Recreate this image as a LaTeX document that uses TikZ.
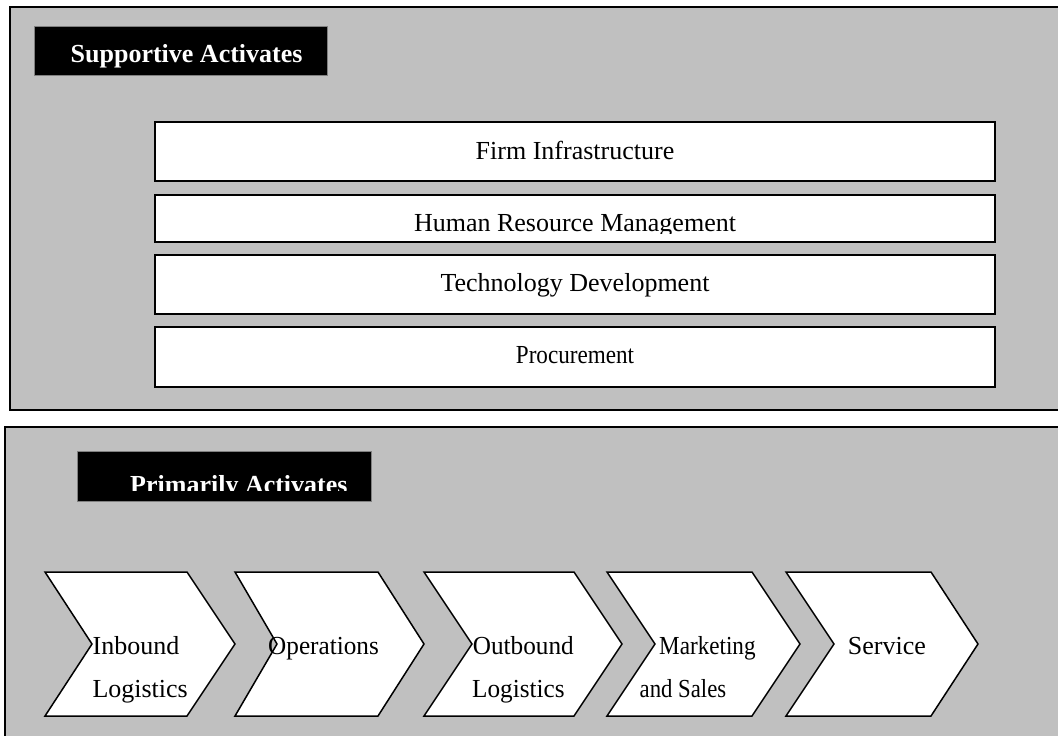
\documentclass[tikz,border=0pt]{standalone}
\usepackage{graphicx}
\usepackage{fontspec}
\setmainfont{Liberation Serif}
\definecolor{panelgray}{RGB}{192,192,192}
\tikzset{
  panel/.style={draw=black, line width=2pt, fill=panelgray},
  labelbox/.style={draw=gray, line width=0.8pt, fill=black},
  actbox/.style={draw=black, line width=2pt, fill=white},
  chev/.style={draw=black, line width=1.5pt, fill=white, line join=miter},
  txt/.style={inner sep=0pt, font=\fontsize{26}{31}\selectfont},
  btxt/.style={inner sep=0pt, text=white, font=\fontsize{26}{31}\selectfont\bfseries},
}
\begin{document}
\begin{tikzpicture}[x=1pt,y=-1pt]
\useasboundingbox (0,0) rectangle (1058,736);
\clip (0,0) rectangle (1058,736);
% panels
\path[panel] (10,7) rectangle (1075,410);
\coordinate (topP) at (10,7);
\path[panel] (5,427) rectangle (1075,760);
\coordinate (botP) at (5,427);
% label boxes
\path[labelbox] (34,26) rectangle (327,75);
\node[btxt, anchor=base west] (sup) at (70.5,62) {Supportive Activates};
\path[labelbox] (77,451) rectangle (371,501);
\begin{scope}
  \clip (77,451) rectangle (371,490);
  \node[btxt, anchor=base west] (pri) at (130,493) {Primarily Activates};
\end{scope}
% support activity boxes
\path[actbox] (155,122) rectangle (995,181);
\node[txt, anchor=base] (fi) at (575,159) {Firm Infrastructure};
\path[actbox] (155,194.5) rectangle (995,242);
\begin{scope}
  \clip (155,194.5) rectangle (995,233.5);
  \node[txt, anchor=base] (hrm) at (575,231.7) {Human Resource Management};
\end{scope}
\path[actbox] (155,255) rectangle (995,314);
\node[txt, anchor=base] (td) at (575,291.7) {Technology Development};
\path[actbox] (155,327) rectangle (995,386.5);
\node[txt, anchor=base] (pr) at (575,363.3) {\scalebox{0.89}[1]{Procurement}};
% chevrons: left, notch, top-right, tip
\foreach \l/\n/\r/\t/\nm in {45/92/187/235/c1, 235/277/378/424/c2, 424/472/574/622/c3, 607/655/752/800/c4, 786/834/931/978/c5}{
  \path[chev] (\l,572) -- (\r,572) -- (\t,644) -- (\r,716) -- (\l,716) -- (\n,644) -- cycle;
  \coordinate (\nm) at (\n,644);
}
\node[txt, anchor=base west] (ib1) at (92.5,654.3) {Inbound};
\node[txt, anchor=base west] (ib2) at (92.3,697) {Logistics};
\node[txt, anchor=base west] (op) at (268,654.3) {\scalebox{0.97}[1]{Operations}};
\node[txt, anchor=base west] (ob1) at (472.7,654.3) {\scalebox{0.97}[1]{Outbound}};
\node[txt, anchor=base west] (ob2) at (472,697) {\scalebox{0.97}[1]{Logistics}};
\node[txt, anchor=base west] (mk1) at (659,654.3) {\scalebox{0.89}[1]{Marketing}};
\node[txt, anchor=base west] (mk2) at (639.5,697) {\scalebox{0.875}[1]{and Sales}};
\node[txt, anchor=base west] (sv) at (847.7,654.3) {Service};
\end{tikzpicture}
\end{document}
